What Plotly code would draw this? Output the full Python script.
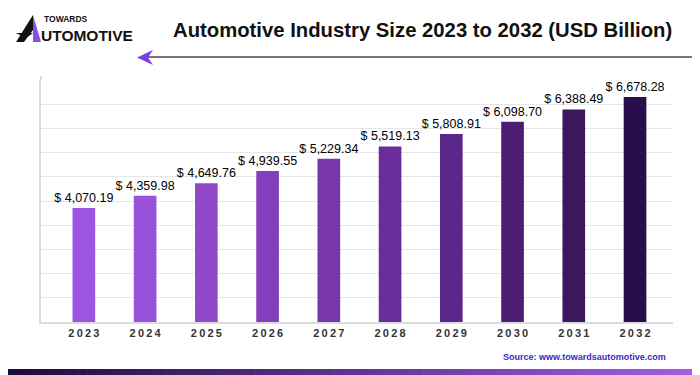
import plotly.graph_objects as go

years = ["2023", "2024", "2025", "2026", "2027", "2028", "2029", "2030", "2031", "2032"]
values = [4070.19, 4359.98, 4649.76, 4939.55, 5229.34, 5519.13, 5808.91, 6098.70, 6388.49, 6678.28]
bar_colors = ["#9b55e0", "#9851da", "#8f49c9", "#833fbb", "#7737a9", "#6a2e9a", "#5b2689", "#4c1e73", "#3c1760", "#2a0e4c"]
title_text = "Automotive Industry Size 2023 to 2032 (USD Billion)"
source_text = "Source: www.towardsautomotive.com"

labels = ["$ {:,.2f}".format(v) for v in values]
ticktext = ["<b>" + "\u2009".join(list(y)) + "</b>" for y in years]

FONT = "Liberation Sans, Arial, sans-serif"
OFF = 8  # default page body margin
L, T, W, H = 41, 80, 632, 242
FW, FH = 700 - OFF, 375 - OFF

def px(x):
    return (x - L) / W

def py(y):
    return 1 - (y - T) / H

fig = go.Figure()
fig.add_trace(go.Bar(
    x=years, y=values,
    marker=dict(color=bar_colors, line=dict(width=0)),
    width=0.37,
    text=labels, textposition="outside", constraintext="none",
    textfont=dict(family=FONT, size=12.5, color="#000"),
    cliponaxis=False,
    hoverinfo="skip",
))

fig.update_layout(
    width=FW, height=FH,
    margin=dict(l=L - OFF, r=FW - (L - OFF) - W, t=T - OFF, b=FH - (T - OFF) - H, autoexpand=False),
    paper_bgcolor="white", plot_bgcolor="white",
    showlegend=False,
    xaxis=dict(
        type="category", range=[-0.70, 9.62], automargin=False,
        tickmode="array", tickvals=years, ticktext=ticktext,
        tickfont=dict(family=FONT, size=11, color="#333"),
        showgrid=False, showline=True, linecolor="#dcdcdc", linewidth=1.5,
        ticks="", ticklen=0,
    ),
    yaxis=dict(
        range=[1390, 7080], tick0=1390, dtick=569, automargin=False,
        showticklabels=False, showgrid=True, gridcolor="#e6e6e6", gridwidth=1,
        showline=True, linecolor="#dcdcdc", linewidth=2, zeroline=False, ticks="",
    ),
    font=dict(family=FONT),
)

fig.add_annotation(text="<b>" + title_text + "</b>", xref="paper", yref="paper",
                   x=px(422), y=py(30), xanchor="center", yanchor="middle",
                   showarrow=False, font=dict(size=20.3, color="#111", family=FONT))

fig.add_annotation(text="<b>" + source_text + "</b>", xref="paper", yref="paper",
                   x=px(668), y=py(357), xanchor="right", yanchor="middle",
                   showarrow=False, font=dict(size=9, color="#3b28c8", family=FONT))

fig.add_annotation(text="<b>TOWARDS</b>", xref="paper", yref="paper",
                   x=px(42), y=py(19), xanchor="left", yanchor="middle",
                   showarrow=False, font=dict(size=8.5, color="#111", family=FONT))
fig.add_annotation(text="<b>UTOMOTIVE</b>", xref="paper", yref="paper",
                   x=px(39), y=py(35), xanchor="left", yanchor="middle",
                   showarrow=False, font=dict(size=15.5, color="#111", family=FONT))

def poly(pts):
    return "M " + " L ".join("%f,%f" % (px(a), py(b)) for a, b in pts) + " Z"

shapes = []
shapes.append(dict(type="path", xref="paper", yref="paper", layer="above",
                   path=poly([(16, 42), (33, 15), (33, 30), (24, 42)]),
                   fillcolor="#111", line=dict(width=0)))
shapes.append(dict(type="path", xref="paper", yref="paper", layer="above",
                   path=poly([(33, 15), (41, 42), (33, 42), (33, 30)]),
                   fillcolor="#8a4ee6", line=dict(width=0)))
shapes.append(dict(type="path", xref="paper", yref="paper", layer="above",
                   path=poly([(16, 33), (33, 33), (26, 38)]),
                   fillcolor="#111", line=dict(width=0)))

shapes.append(dict(type="line", xref="paper", yref="paper",
                   x0=px(41), x1=px(41), y0=py(76), y1=py(80),
                   line=dict(color="#dcdcdc", width=2)))

shapes.append(dict(type="line", xref="paper", yref="paper",
                   x0=px(146), x1=px(700), y0=py(57), y1=py(57),
                   line=dict(color="#4a4a55", width=1.5)))
shapes.append(dict(type="path", xref="paper", yref="paper",
                   path=poly([(137, 57.5), (153, 50), (148, 57.5), (153, 65)]),
                   fillcolor="#7b3fe0", line=dict(width=0)))

c0 = (0x1c, 0x0b, 0x3c)
c1 = (0xa6, 0x5c, 0xe8)
n = 70
for i in range(n):
    t = i / (n - 1)
    col = "rgb(%d,%d,%d)" % tuple(round(a + (b - a) * t) for a, b in zip(c0, c1))
    xa = OFF + i * (700 - OFF) / n
    xb = OFF + (i + 1) * (700 - OFF) / n + 0.6
    shapes.append(dict(type="rect", xref="paper", yref="paper",
                       x0=px(xa), x1=px(xb), y0=py(375), y1=py(369),
                       fillcolor=col, line=dict(width=0)))

fig.update_layout(shapes=shapes)
fig.write_html("out.html")
